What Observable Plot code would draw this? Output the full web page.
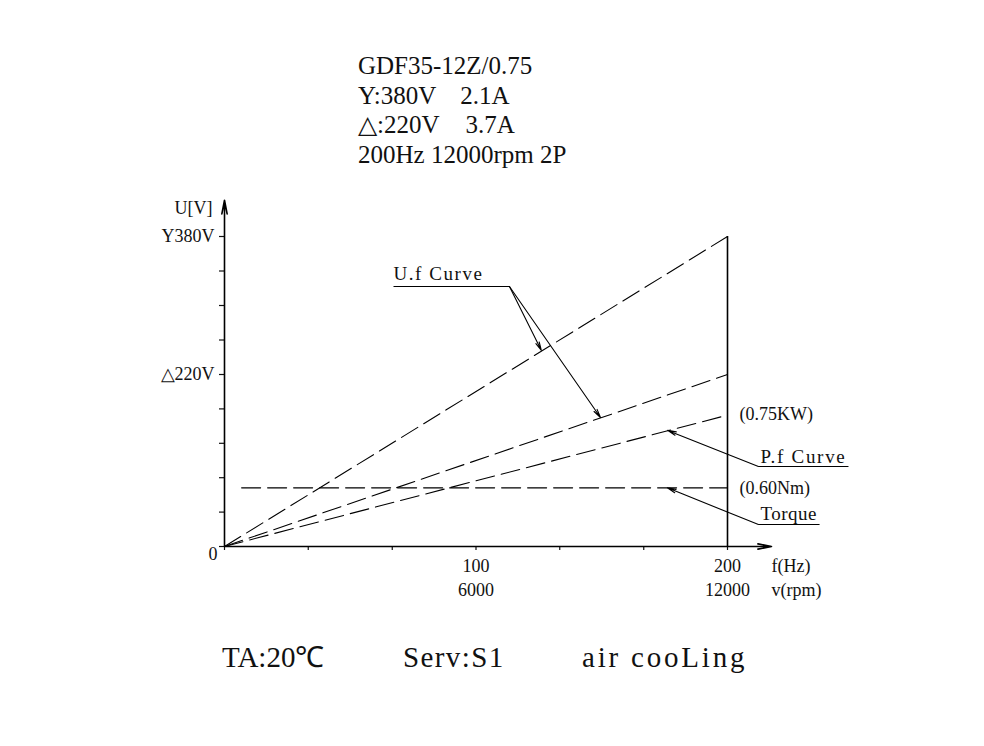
<!DOCTYPE html>
<html>
<head>
<meta charset="utf-8">
<script src="https://cdn.jsdelivr.net/npm/d3@7"></script>
<script src="https://cdn.jsdelivr.net/npm/@observablehq/plot@0.6"></script>
<style>
  html, body { margin: 0; padding: 0; background: #fff; }
  #wrap { position: relative; width: 984px; height: 746px; background: #fff; font-family: "Liberation Serif", serif; color: #111; }
  #header { position: absolute; left: 358px; top: 51px; font-size: 25px; line-height: 29.5px; white-space: pre; }
  .foot { position: absolute; top: 643px; font-size: 29px; line-height: 29px; white-space: pre; }
  #chart { position: absolute; left: 0; top: 0; }
  .cw text { letter-spacing: 1.55px; }
  .cp text { letter-spacing: 1.7px; }
  .ct text { letter-spacing: 0.5px; }
</style>
</head>
<body>
<div id="wrap">
  <div id="header"></div>
  <div id="chart"></div>
  <div id="footer"></div>
</div>
<script>
// ---- text content ----
const headerLines = ["GDF35-12Z/0.75", "Y:380V  2.1A", "△:220V  3.7A", "200Hz 12000rpm 2P"];
const headerWordSpacing = [0, 6, 7, 0];
const footerItems = ["TA:20℃", "Serv:S1", "air cooLing"];
const footerLeft = [222, 403, 582];
const footerSpacing = [0, 1.4, 2.8];

// ---- data ----
const freq = [0, 200];                 // Hz
const uStar = [0, 380];                // Y connection voltage
const uDelta = [0, 220];               // delta connection voltage
const powerY = [0, 168];               // P.f curve (schematic, read in axis units)
const torqueFreq = [6.8, 200];
const torqueY = [75, 75];              // torque line (schematic)

const yTicks = [0, 44, 88, 132, 176, 220, 260, 300, 340, 380];
const yTickLabels = new Map([[380, "Y380V"], [220, "△220V"]]);
const xTicks = [0, 33.3, 66.7, 100, 133.3, 166.7, 200];
const xTickLabels = new Map([[100, "100\n6000"], [200, "200\n12000"]]);

const endLabels = [
  {f: 204.8, v: 169, text: "(0.75KW)"},
  {f: 204.8, v: 74, text: "(0.60Nm)"}
];
const calloutUf = [{f: 67.2, v: 337, text: "U.f Curve"}];
const calloutPf = [{f: 213.1, v: 114, text: "P.f Curve"}];
const calloutTq = [{f: 213.1, v: 42, text: "Torque"}];
const underlines = [
  {f1: 67.2, f2: 113.3, v: 322},
  {f1: 212.3, f2: 248.1, v: 102.3},
  {f1: 212.3, f2: 236.6, v: 28.1}
];
const leaders = [
  {f1: 113.3, v1: 322, f2: 126.0, v2: 247.8},
  {f1: 113.3, v1: 322, f2: 149.5, v2: 165},
  {f1: 212.3, v1: 102.3, f2: 176.2, v2: 148.5},
  {f1: 212.3, v1: 28.1, f2: 176.1, v2: 75}
];
const axisEnds = [
  {f1: 0, v1: 0, f2: 0, v2: 422},
  {f1: 0, v1: 0, f2: 217.5, v2: 0}
];

const series = (ys, xs = freq) => xs.map((x, i) => ({x, y: ys[i]}));

// header / footer
headerLines.forEach((t, i) => {
  d3.select("#header").append("div").style("word-spacing", headerWordSpacing[i] + "px").text(t);
});
footerItems.forEach((t, i) => {
  d3.select("#footer").append("div").attr("class", "foot")
    .style("left", footerLeft[i] + "px")
    .style("letter-spacing", footerSpacing[i] + "px")
    .text(t);
});

const dash = "19,7";
const chart = Plot.plot({
  width: 984,
  height: 746,
  marginLeft: 224,
  marginRight: 257,
  marginTop: 236,
  marginBottom: 200,
  x: {domain: [0, 200]},
  y: {type: "linear", domain: [0, 220, 380], range: [546, 374, 236]},
  style: {fontFamily: "Liberation Serif", fontSize: "18px", color: "#111", background: "transparent", overflow: "visible"},
  marks: [
    Plot.axisY({ticks: yTicks, tickSize: 5, tickPadding: 5, strokeWidth: 1.2, tickFormat: d => yTickLabels.get(d) ?? "", label: null, fontSize: 18}),
    Plot.axisX({ticks: xTicks, tickSize: 4, tickPadding: 5, strokeWidth: 1.2, tickFormat: d => xTickLabels.get(d) ?? "", label: null, fontSize: 18, lineHeight: 1.33}),
    Plot.arrow(axisEnds, {x1: "f1", y1: "v1", x2: "f2", y2: "v2", stroke: "#000", strokeWidth: 1.6, headLength: 13, headAngle: 22}),
    Plot.ruleX([200], {y1: 0, y2: 380, stroke: "#000", strokeWidth: 1.6}),
    Plot.line(series(uStar), {x: "x", y: "y", stroke: "#000", strokeWidth: 1.1, strokeDasharray: dash}),
    Plot.line(series(uDelta), {x: "x", y: "y", stroke: "#000", strokeWidth: 1.1, strokeDasharray: dash}),
    Plot.line(series(powerY), {x: "x", y: "y", stroke: "#000", strokeWidth: 1.1, strokeDasharray: dash}),
    Plot.line(series(torqueY, torqueFreq), {x: "x", y: "y", stroke: "#000", strokeWidth: 1.1, strokeDasharray: dash}),
    Plot.link(underlines, {x1: "f1", x2: "f2", y1: "v", y2: "v", stroke: "#000", strokeWidth: 1.1}),
    Plot.arrow(leaders, {x1: "f1", y1: "v1", x2: "f2", y2: "v2", stroke: "#000", strokeWidth: 1.1, headLength: 12, headAngle: 24}),
    Plot.text(endLabels, {x: "f", y: "v", text: "text", textAnchor: "start", fill: "#111"}),
    Plot.text(calloutUf, {x: "f", y: "v", text: "text", textAnchor: "start", fill: "#111", fontSize: 19, className: "cw"}),
    Plot.text(calloutPf, {x: "f", y: "v", text: "text", textAnchor: "start", fill: "#111", fontSize: 19, className: "cp"}),
    Plot.text(calloutTq, {x: "f", y: "v", text: "text", textAnchor: "start", fill: "#111", fontSize: 19, className: "ct"}),
    Plot.text(["U[V]"], {x: () => 0, y: () => 412.5, text: d => d, textAnchor: "end", dx: -12, fill: "#111"}),
    Plot.text(["0"], {x: () => 0, y: () => 0, text: d => d, textAnchor: "end", dx: -7, dy: 8, fill: "#111"}),
    Plot.text(["f(Hz)\nv(rpm)"], {x: () => 200, y: () => 0, text: d => d, textAnchor: "start", lineAnchor: "top", lineHeight: 1.33, dx: 44, dy: 9, fill: "#111"})
  ]
});
document.getElementById("chart").appendChild(chart);
</script>
</body>
</html>
